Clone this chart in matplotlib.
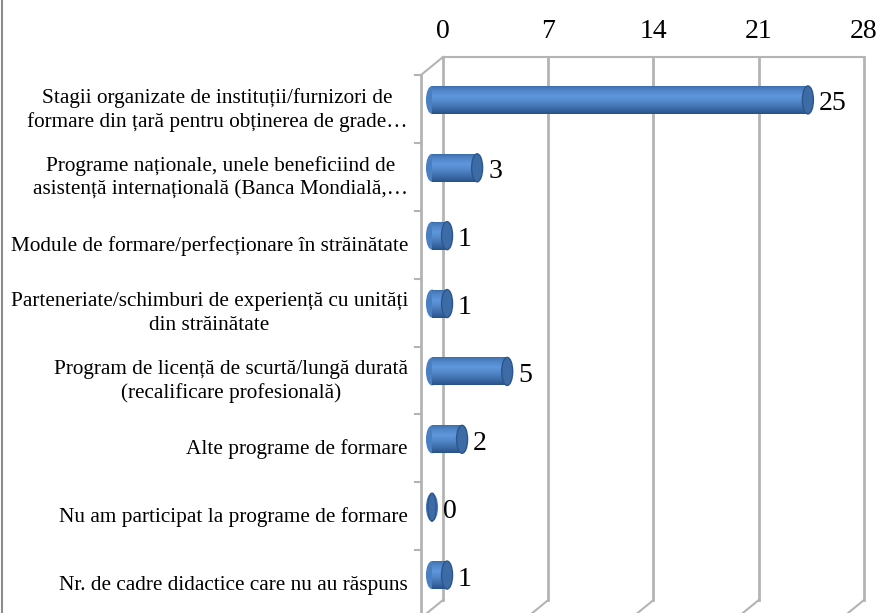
import numpy as np
import matplotlib
matplotlib.use('Agg')
import matplotlib.pyplot as plt
from matplotlib.transforms import offset_copy
from matplotlib.patches import Ellipse
from matplotlib.lines import Line2D

categorii = [
    'Stagii organizate de instituții/furnizori de\nformare din țară pentru obținerea de grade…',
    'Programe naționale, unele beneficiind de\nasistență internațională (Banca Mondială,…',
    'Module de formare/perfecționare în străinătate',
    'Parteneriate/schimburi de experiență cu unități\ndin străinătate',
    'Program de licență de scurtă/lungă durată\n(recalificare profesională)',
    'Alte programe de formare',
    'Nu am participat la programe de formare',
    'Nr. de cadre didactice care nu au răspuns',
]
valori = [25, 3, 1, 1, 5, 2, 0, 1]
ticks_x = [0, 7, 14, 21, 28]

plt.rcParams['font.family'] = ['Liberation Serif', 'DejaVu Serif']

W, H = 879, 613
fig = plt.figure(figsize=(W / 100, H / 100), dpi=100)
# peretele din spate: x 443..864 px, y 57..600 px
ax = fig.add_axes([443 / W, 1 - 600 / H, (864 - 443) / W, (600 - 57) / H])
n = len(categorii)
ax.set_xlim(0, 28)
ax.set_ylim(n, 0)
for s in ax.spines.values():
    s.set_visible(False)
ax.set_yticks([])
ax.set_xticks(ticks_x)
ax.xaxis.tick_top()
ax.tick_params(axis='x', length=0, pad=9, labelsize=20)
ax.patch.set_alpha(0)

gri = '#b4b4b4'
dx, dy = -22, -18  # adancimea 3D in pixeli
front = offset_copy(ax.transData, fig=fig, x=dx, y=dy, units='dots')
mijloc = offset_copy(ax.transData, fig=fig, x=dx / 2, y=dy / 2, units='dots')

# grila pe peretele din spate
for t in ticks_x:
    ax.plot([t, t], [0, n], color=gri, lw=2, zorder=1, clip_on=False)
ax.plot([0, 28], [0, 0], color=gri, lw=1.5, clip_on=False)
# diagonalele podelei si coltul de sus
for t in ticks_x:
    xb, yb = ax.transData.transform((t, n))
    ax.add_line(Line2D([xb, xb + dx], [yb, yb + dy], transform=None, color=gri, lw=1.5, clip_on=False))
x0, y0 = ax.transData.transform((0, 0))
ax.add_line(Line2D([x0, x0 + dx], [y0, y0 + dy], transform=None, color=gri, lw=1.5, clip_on=False))
# axa din fata cu gradatii
ax.plot([0, 0], [0, n + 0.5], color=gri, lw=2, transform=front, clip_on=False)
for k in range(n + 1):
    xf, yf = front.transform((0, k))
    ax.add_line(Line2D([xf - 6, xf], [yf, yf], transform=None, color=gri, lw=1.5, clip_on=False))

# cilindrii
px_unit = (864 - 443) / 28.0
h_bar = 28 / 67.9
cap_w = 11 / px_unit
sus = np.array([0x38, 0x68, 0xa6]) / 255
mij = np.array([0x5e, 0x96, 0xdb]) / 255
jos = np.array([0x27, 0x50, 0x86]) / 255
nstr = 28
for i, v in enumerate(valori):
    yc = i + 0.5
    # capatul din spate (rotunjit)
    ax.add_patch(Ellipse((0, yc), cap_w * 1.1, h_bar, color='#4a80c2', lw=0, transform=mijloc, zorder=3, clip_on=False))
    if v > 0:
        for j in range(nstr):
            f = (j + 0.5) / nstr
            if f < 0.35:
                c = sus + (mij - sus) * (f / 0.35) ** 0.6
            else:
                c = mij + (jos - mij) * ((f - 0.35) / 0.65) ** 1.3
            ax.barh(yc - h_bar / 2 + f * h_bar, v, height=h_bar / nstr * 1.05, color=c,
                    transform=mijloc, zorder=4, clip_on=False)
    ax.add_patch(Ellipse((v, yc), cap_w if v > 0 else cap_w * 0.75, h_bar, facecolor='#3c6ba6',
                         edgecolor='#2b568c', lw=1, transform=mijloc, zorder=5, clip_on=False))
    ax.text(v, yc, str(v), fontsize=20, ha='left', va='center',
            transform=offset_copy(ax.transData, fig=fig, x=0, y=-13, units='dots'), zorder=6)

# etichetele categoriilor
for i, c in enumerate(categorii):
    ax.text(0, i + 0.5, c, fontsize=15.3, ha='right', va='center', multialignment='center',
            linespacing=1.3, transform=offset_copy(ax.transData, fig=fig, x=-35, y=-19, units='dots'),
            clip_on=False)

# chenarul din stanga
fig.add_artist(Line2D([2.5 / W, 2.5 / W], [0, 1], color='#8c8c8c', lw=1.5, transform=fig.transFigure))

fig.savefig('out.png', dpi=100)
